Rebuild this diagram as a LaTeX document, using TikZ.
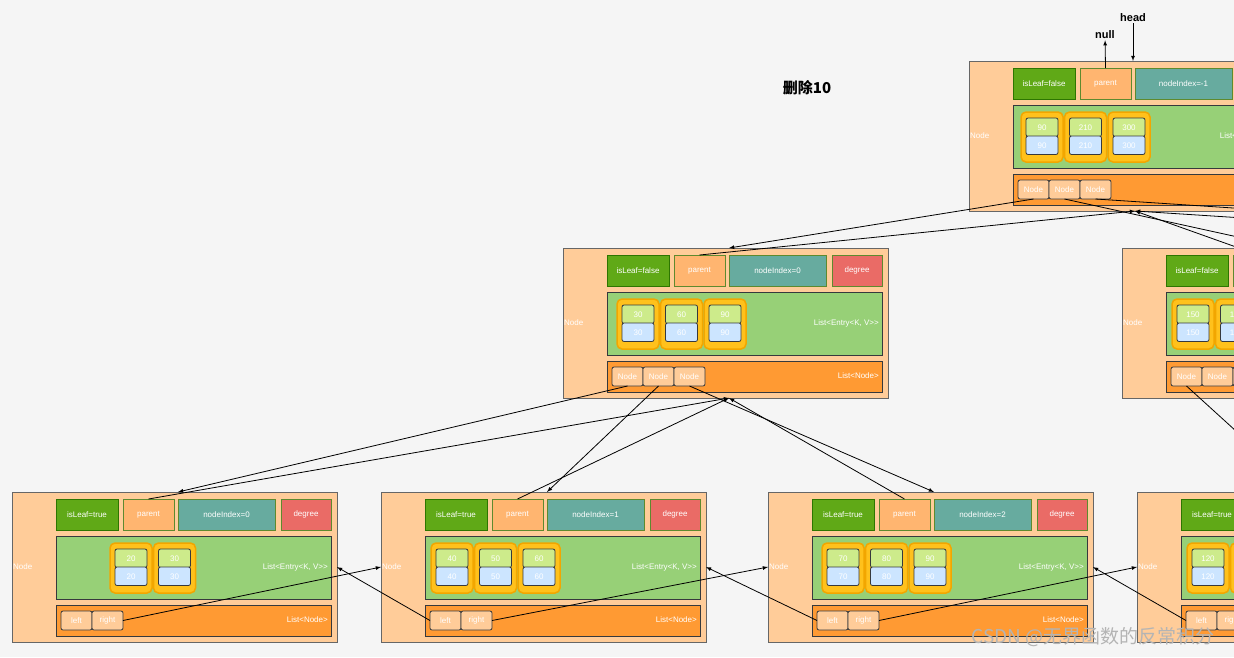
\documentclass[tikz,border=0pt]{standalone}
\usepackage{fontspec}
\setmainfont{Liberation Sans}
\newfontfamily\cjk{Noto Sans CJK SC}
\usepackage{tikz}

\definecolor{bggray}{HTML}{F5F5F5}
\definecolor{nodebg}{HTML}{FFCC99}
\definecolor{edgegray}{HTML}{666666}
\definecolor{darkedge}{HTML}{36393D}
\definecolor{leafgreen}{HTML}{60A917}
\definecolor{leafedge}{HTML}{2D7600}
\definecolor{topedge}{HTML}{5E8A2E}
\definecolor{parentor}{HTML}{FFB570}
\definecolor{indexteal}{HTML}{67AB9F}
\definecolor{degreered}{HTML}{EA6B66}
\definecolor{listgreen}{HTML}{97D077}
\definecolor{ptrorange}{HTML}{FF9A33}
\definecolor{entryyellow}{HTML}{FFC11C}
\definecolor{entryedge}{HTML}{F2A600}
\definecolor{keygreen}{HTML}{CDEB8B}
\definecolor{valblue}{HTML}{CCE5FF}
\definecolor{markgray}{HTML}{B4B4B4}

% one B+ tree node: name, x, y, isLeaf, nodeIndex, entry offset, keys, pointers
\newcommand{\treeNode}[8]{%
  \begin{scope}[shift={(#2,#3)}]
    \node[nodebox] (#1) at (0,0) {};
    \node[txt, anchor=west, inner sep=0] (#1-label) at (1,75) {Node};
    \node[leafbox] (#1-leaf) at (44,7) {isLeaf=#4};
    \node[parentbox] (#1-parent) at (111,7) {parent};
    \node[indexbox] (#1-index) at (166,7) {nodeIndex=#5};
    \node[degreebox] (#1-degree) at (269,7) {degree};
    \node[listbox] (#1-entries) at (44,44) {};
    \node[txt, anchor=east, inner sep=1] (#1-elabel) at (317,75) {List<Entry<K, V>{}>};
    \foreach \kv [count=\i] in {#7} {
      \node[entrybox] (#1-e\i) at ({#6+(\i-1)*43.5},51) {};
      \node[keybox] (#1-k\i) at ({#6+5+(\i-1)*43.5},57) {\kv};
      \node[valbox] (#1-v\i) at ({#6+5+(\i-1)*43.5},75) {\kv};
    }
    \node[ptrlist] (#1-ptrs) at (44,113) {};
    \node[txt, anchor=east, inner sep=1] (#1-plabel) at (317,128) {List<Node>};
    \foreach \ptrname [count=\i] in {#8} {
      \node[ptrbox] (#1-p\i) at ({49+(\i-1)*31},119) {\ptrname};
    }
  \end{scope}}

\begin{document}
\begin{tikzpicture}[x=1pt, y=-1pt,
    txt/.style={text=white, font=\fontsize{8}{9}\selectfont},
    field/.style={txt, anchor=north west, minimum height=31, inner sep=0, outer sep=0, line width=1pt},
    nodebox/.style={anchor=north west, fill=nodebg, draw=edgegray, minimum width=325, minimum height=150, inner sep=0, outer sep=0, line width=0.8pt},
    leafbox/.style={field, fill=leafgreen, draw=leafedge, minimum width=62},
    parentbox/.style={field, fill=parentor, draw=topedge, minimum width=51},
    indexbox/.style={field, fill=indexteal, draw=topedge, minimum width=97},
    degreebox/.style={field, fill=degreered, draw=topedge, minimum width=50},
    listbox/.style={anchor=north west, fill=listgreen, draw=darkedge, minimum width=275, minimum height=63, inner sep=0, outer sep=0, line width=1pt},
    ptrlist/.style={listbox, fill=ptrorange, minimum height=31},
    entrybox/.style={anchor=north west, fill=entryyellow, draw=entryedge, rounded corners=5, minimum width=42, minimum height=50, inner sep=0, outer sep=0, line width=1.5pt},
    keybox/.style={txt, anchor=north west, fill=keygreen, draw=darkedge, rounded corners=2, minimum width=32, minimum height=18.5, inner sep=0, outer sep=0, line width=0.8pt},
    valbox/.style={keybox, fill=valblue},
    ptrbox/.style={keybox, fill=nodebg, minimum width=31, minimum height=19},
    tag/.style={font=\bfseries\fontsize{11}{12}\selectfont, inner sep=1},
    ptr/.style={-latex, line width=0.8pt}]

    \useasboundingbox (0,0) rectangle (1234,657);
    \fill[bggray] (0,0) rectangle (1234,657);
    \clip (0,0) rectangle (1234,657);

    % Nodes
    \treeNode{root}{969}{61}{false}{-1}{52}{90,210,300}{Node,Node,Node}
    \treeNode{mid1}{563}{248}{false}{0}{54}{30,60,90}{Node,Node,Node}
    \treeNode{mid2}{1122}{248}{false}{1}{50}{150,180,210}{Node,Node,Node}
    \treeNode{leaf1}{12}{492}{true}{0}{98}{20,30}{left,right}
    \treeNode{leaf2}{381}{492}{true}{1}{50}{40,50,60}{left,right}
    \treeNode{leaf3}{768}{492}{true}{2}{54}{70,80,90}{left,right}
    \treeNode{leaf4}{1137}{492}{true}{3}{50}{120,130,150}{left,right}
    \coordinate (mid3top) at (1846,248);
    \coordinate (mid3parent) at (1818,255);

    \node[tag] (head) at (1133,18) {head};
    \node[tag] (null) at (1105,35) {null};
    \node[font=\cjk\bfseries\fontsize{15}{18}\selectfont] (title) at (807,88) {删除10};
    \node[text=markgray, font=\cjk\fontsize{19}{22}\selectfont] (mark) at (1093,637) {CSDN @无界函数的反常积分};

    % Lines
    \draw[ptr] (head) -- (head |- root.north);
    \draw[ptr] (root-parent.north) -- (null);

    \draw[ptr] (root-p1.south) -- (mid1-index.north west |- mid1.north);
    \draw[ptr] (mid1-parent.north) -- (root-index.west |- root.south);
    \draw[ptr] (root-p2.south) -- (mid2-index.north west |- mid2.north);
    \draw[ptr] (mid2-parent.north) -- (root-index.west |- root.south);
    \draw[ptr] (root-p3.south) -- (mid3top);
    \draw[ptr] (mid3parent) -- (root-index.west |- root.south);

    \draw[ptr] (mid1-p1.south) -- (leaf1-index.north west |- leaf1.north);
    \draw[ptr] (leaf1-parent.north) -- (mid1-index.west |- mid1.south);
    \draw[ptr] (mid1-p2.south) -- (leaf2-index.north west |- leaf2.north);
    \draw[ptr] (leaf2-parent.north) -- (mid1-index.west |- mid1.south);
    \draw[ptr] (mid1-p3.south) -- (leaf3-index.north west |- leaf3.north);
    \draw[ptr] (leaf3-parent.north) -- (mid1-index.west |- mid1.south);
    \draw[ptr] (mid2-p1.south) -- (leaf4-index.north west |- leaf4.north);
    \draw[ptr] (leaf4-parent.north) -- (mid2-index.west |- mid2.south);

    \draw[ptr] (leaf1-p2.east) -- (leaf2.west);
    \draw[ptr] (leaf2-p1.west) -- (leaf1.east);
    \draw[ptr] (leaf2-p2.east) -- (leaf3.west);
    \draw[ptr] (leaf3-p1.west) -- (leaf2.east);
    \draw[ptr] (leaf3-p2.east) -- (leaf4.west);
    \draw[ptr] (leaf4-p1.west) -- (leaf3.east);
\end{tikzpicture}
\end{document}
